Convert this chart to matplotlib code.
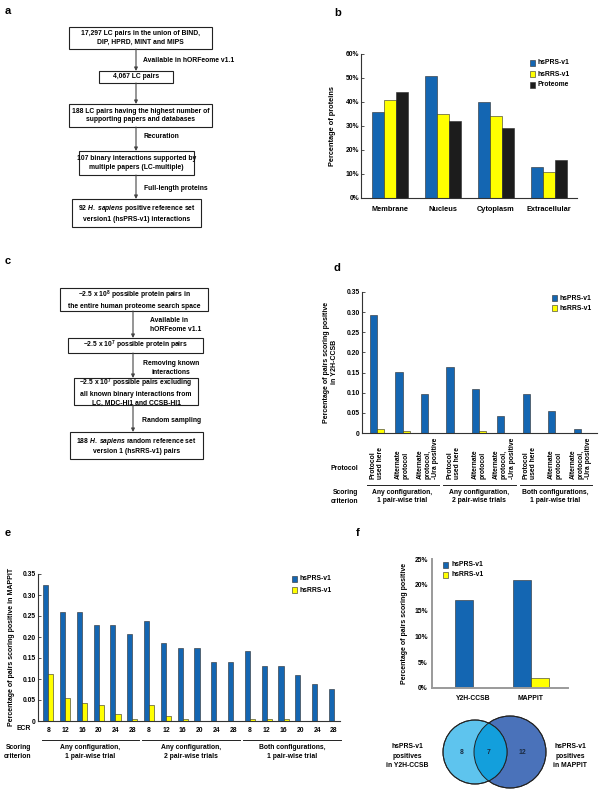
import matplotlib
matplotlib.use('Agg')
import matplotlib.pyplot as plt
from matplotlib.patches import Rectangle, Circle
import numpy as np

plt.rcParams['font.family'] = ['Liberation Sans', 'DejaVu Sans']
plt.rcParams['font.weight'] = 'bold'
plt.rcParams['mathtext.fontset'] = 'custom'
plt.rcParams['mathtext.rm'] = 'Liberation Sans:bold'
plt.rcParams['mathtext.it'] = 'Liberation Sans:italic:bold'
plt.rcParams['mathtext.default'] = 'rm'
plt.rcParams['axes.linewidth'] = 0.8

# ---------------- data ----------------
b_categories = ['Membrane', 'Nucleus', 'Cytoplasm', 'Extracellular']
b_prs = [36, 51, 40, 13]
b_rrs = [41, 35, 34, 11]
b_proteome = [44, 32, 29, 16]

d_protocols = ['Protocol\nused here', 'Alternate\nprotocol', 'Alternate\nprotocol,\n-Ura positive'] * 3
d_criteria = ['Any configuration,\n1 pair-wise trial', 'Any configuration,\n2 pair-wise trials',
              'Both configurations,\n1 pair-wise trial']
d_prs = [0.293, 0.152, 0.098, 0.163, 0.108, 0.043, 0.098, 0.054, 0.011]
d_rrs = [0.011, 0.005, 0.0, 0.0, 0.005, 0.0, 0.0, 0.0, 0.0]

e_ecr = ['8', '12', '16', '20', '24', '28'] * 3
e_criteria = ['Any configuration,\n1 pair-wise trial', 'Any configuration,\n2 pair-wise trials',
              'Both configurations,\n1 pair-wise trial']
e_prs = [0.325, 0.260, 0.260, 0.228, 0.228, 0.206, 0.238, 0.185, 0.173, 0.173, 0.140, 0.140,
         0.166, 0.132, 0.132, 0.110, 0.088, 0.077]
e_rrs = [0.113, 0.054, 0.043, 0.038, 0.016, 0.005, 0.038, 0.011, 0.005, 0.0, 0.0, 0.0,
         0.005, 0.005, 0.005, 0.0, 0.0, 0.0]

f_categories = ['Y2H-CCSB', 'MAPPIT']
f_prs = [17, 21]
f_rrs = [0, 2]

venn_counts = ['8', '7', '12']

series_names = ['hsPRS-v1', 'hsRRS-v1', 'Proteome']

BLUE = '#1466b2'
YELLOW = '#ffff00'
BLACK = '#1c1c1c'
EDGE = '#2a2a2a'
FS = 4.9

W, H = 603, 794
fig = plt.figure(figsize=(W / 100, H / 100), dpi=100)


def ax_px(l, t, r, b):
    return fig.add_axes([l / W, 1 - b / H, (r - l) / W, (b - t) / H])


ov = fig.add_axes([0, 0, 1, 1], zorder=10)
ov.set_xlim(0, W)
ov.set_ylim(H, 0)
ov.axis('off')


def box(l, t, r, b, text):
    ov.add_patch(Rectangle((l, t), r - l, b - t, fill=False, ec='#222222', lw=0.8))
    ov.text((l + r) / 2, (t + b) / 2, text, ha='center', va='center', fontsize=FS,
            linespacing=1.3)


def arrow(x, y0, y1):
    ov.annotate('', xy=(x, y1), xytext=(x, y0),
                arrowprops=dict(arrowstyle='-|>', color='#444444', lw=0.8,
                                mutation_scale=5, shrinkA=0, shrinkB=0))


def legend(x, ys, colors, names):
    for y, c, n in zip(ys, colors, names):
        ov.add_patch(Rectangle((x, y - 2.6), 5.2, 5.2, fc=c, ec=EDGE, lw=0.4))
        ov.text(x + 8, y, n, ha='left', va='center', fontsize=FS)


def style_axis(ax, color='#333333', lw=0.8):
    for s in ['top', 'right']:
        ax.spines[s].set_visible(False)
    for s in ['left', 'bottom']:
        ax.spines[s].set_color(color)
        ax.spines[s].set_linewidth(lw)
    ax.tick_params(axis='y', direction='in', length=2.5, width=0.6, pad=1.5, labelsize=FS,
                   color=color)
    ax.tick_params(axis='x', length=0, labelsize=FS)


# panel labels
for lab, x, y in [('a', 8, 11), ('b', 338, 13), ('c', 8, 261), ('d', 337, 268),
                  ('e', 8, 533), ('f', 358, 533)]:
    ov.text(x, y, lab, fontsize=8, ha='center', va='center')

# ---------------- panel a ----------------
box(69, 27, 212, 49, '17,297 LC pairs in the union of BIND,\nDIP, HPRD, MINT and MIPS')
arrow(136, 49, 71)
ov.text(143, 61, 'Available in hORFeome v1.1', fontsize=FS, va='center')
box(99, 71, 173, 83, '4,067 LC pairs')
arrow(136, 83, 104)
box(69, 104, 212, 127, '188 LC pairs having the highest number of\nsupporting papers and databases')
arrow(136, 127, 151)
ov.text(143, 137, 'Recuration', fontsize=FS, va='center')
box(79, 151, 194, 175, '107 binary interactions supported by\nmultiple papers (LC-multiple)')
arrow(136, 175, 199)
ov.text(144, 188, 'Full-length proteins', fontsize=FS, va='center')
box(72, 199, 201, 227, '92 $\\mathit{H.\\ sapiens}$ positive reference set\nversion1 (hsPRS-v1) interactions')

# ---------------- panel c ----------------
box(60, 288, 208, 311, '~2.5 x 10$^{8}$ possible protein pairs in\nthe entire human proteome search space')
arrow(133, 311, 338)
ov.text(150, 325, 'Available in\nhORFeome v1.1', fontsize=FS, va='center', linespacing=1.3,
        multialignment='left')
box(68, 338, 203, 353, '~2.5 x 10$^{7}$ possible protein pairs')
arrow(133, 353, 378)
ov.text(143, 368, 'Removing known\ninteractions', fontsize=FS, va='center', linespacing=1.3,
        multialignment='center')
box(74, 378, 198, 405, '~2.5 x 10$^{7}$ possible pairs excluding\nall known binary interactions from\nLC, MDC-HI1 and CCSB-HI1')
arrow(133, 405, 432)
ov.text(142, 421, 'Random sampling', fontsize=FS, va='center')
box(70, 432, 203, 459, '188 $\\mathit{H.\\ sapiens}$ random reference set\nversion 1 (hsRRS-v1) pairs')

# ---------------- panel b ----------------
axb = ax_px(361, 54, 577, 198)
xb = np.arange(len(b_categories))
wb = 0.226
axb.bar(xb - wb, b_prs, wb, color=BLUE, ec=EDGE, lw=0.4)
axb.bar(xb, b_rrs, wb, color=YELLOW, ec=EDGE, lw=0.4)
axb.bar(xb + wb, b_proteome, wb, color=BLACK, ec=EDGE, lw=0.4)
axb.set_xlim(-0.547, 3.53)
axb.set_ylim(0, 60)
axb.set_yticks(range(0, 61, 10))
axb.set_yticklabels([f'{v}%' for v in range(0, 61, 10)])
axb.set_xticks(xb)
axb.set_xticklabels(b_categories, fontsize=5.2)
style_axis(axb)
axb.tick_params(axis='x', pad=6, labelsize=5.3)
ov.text(333, 126, 'Percentage of proteins', rotation=90, fontsize=5.3, ha='center', va='center')
legend(530, [63, 74, 85], [BLUE, YELLOW, BLACK], series_names)

# ---------------- panel d ----------------
axd = ax_px(362, 292, 597, 433)
xd = np.arange(len(d_prs))
wd = 0.29
axd.bar(xd - wd / 2, d_prs, wd, color=BLUE, ec=EDGE, lw=0.4)
axd.bar(xd + wd / 2, d_rrs, wd, color=YELLOW, ec=EDGE, lw=0.4)
axd.set_xlim(-0.59, 8.63)
axd.set_ylim(0, 0.35)
dt = np.arange(0, 0.351, 0.05)
axd.set_yticks(dt)
axd.set_yticklabels(['0'] + [f'{v:.2f}' for v in dt[1:]])
axd.set_xticks([])
style_axis(axd)
hd = 433 - 292
tr = axd.get_xaxis_transform()
for i, lab in enumerate(d_protocols):
    axd.text(i, (433 - 479) / hd, lab, rotation=90, ha='center', va='bottom', fontsize=FS,
             transform=tr, multialignment='left', linespacing=1.15, clip_on=False)
for g, lab in enumerate(d_criteria):
    axd.plot([g * 3 - 0.4, g * 3 + 2.45], [(433 - 485) / hd] * 2, color='#222222', lw=0.7,
             transform=tr, clip_on=False)
    axd.text(g * 3 + 1, (433 - 489) / hd, lab, ha='center', va='top', fontsize=FS,
             transform=tr, linespacing=1.3, clip_on=False)
ov.text(358, 468, 'Protocol', ha='right', va='center', fontsize=FS)
ov.text(358, 497, 'Scoring\ncriterion', ha='right', va='center', fontsize=FS, multialignment='right',
        linespacing=1.3)
ov.text(330, 362, 'Percentage of pairs scoring positive\nin Y2H-CCSB', rotation=90, fontsize=5.0,
        ha='center', va='center', linespacing=1.2)
legend(552, [298, 308], [BLUE, YELLOW], series_names[:2])

# ---------------- panel e ----------------
axe = ax_px(38, 574, 340, 721)
xe = np.arange(len(e_prs))
we = 0.3
axe.bar(xe - we / 2, e_prs, we, color=BLUE, ec=EDGE, lw=0.4)
axe.bar(xe + we / 2, e_rrs, we, color=YELLOW, ec=EDGE, lw=0.4)
axe.set_xlim(-0.61, 17.36)
axe.set_ylim(0, 0.35)
axe.set_yticks(dt)
axe.set_yticklabels(['0'] + [f'{v:.2f}' for v in dt[1:]])
axe.set_xticks(xe)
axe.set_xticklabels(e_ecr)
style_axis(axe)
axe.tick_params(axis='x', pad=4)
he = 721 - 574
tre = axe.get_xaxis_transform()
for g, lab in enumerate(e_criteria):
    axe.plot([g * 6 - 0.4, g * 6 + 5.4], [(721 - 740) / he] * 2, color='#222222', lw=0.7,
             transform=tre, clip_on=False)
    axe.text(g * 6 + 2.5, (721 - 744) / he, lab, ha='center', va='top', fontsize=FS,
             transform=tre, linespacing=1.3, clip_on=False)
ov.text(31, 729, 'ECR', ha='right', va='center', fontsize=FS)
ov.text(31, 752, 'Scoring\ncriterion', ha='right', va='center', fontsize=FS, multialignment='right',
        linespacing=1.3)
ov.text(12, 647, 'Percentage of pairs scoring positive in MAPPIT', rotation=90, fontsize=5.0,
        ha='center', va='center')
legend(292, [579, 590], [BLUE, YELLOW], series_names[:2])

# ---------------- panel f ----------------
axf = ax_px(432, 559, 568, 688)
xf = np.arange(len(f_prs))
wf = 0.31
axf.bar(xf - wf / 2, f_prs, wf, color=BLUE, ec=EDGE, lw=0.4)
axf.bar(xf + wf / 2, f_rrs, wf, color=YELLOW, ec=EDGE, lw=0.4)
axf.set_xlim(-0.707, 1.64)
axf.set_ylim(0, 25)
axf.set_yticks(range(0, 26, 5))
axf.set_yticklabels([f'{v}%' for v in range(0, 26, 5)])
axf.set_xticks(xf)
axf.set_xticklabels(f_categories)
style_axis(axf, color='#9a9a9a', lw=1.4)
axf.tick_params(axis='y', length=0, pad=3)
axf.tick_params(axis='x', pad=5)
ov.text(404, 623, 'Percentage of pairs scoring positive', rotation=90, fontsize=5.0,
        ha='center', va='center')
legend(443, [565, 575], [BLUE, YELLOW], series_names[:2])

# ---------------- Venn ----------------
left_c = Circle((475, 752), 32, fc='#5ec4ee', ec='#222222', lw=0.7)
right_c = Circle((510, 752), 36, fc='#4a72ba', ec='#222222', lw=0.7)
ov.add_patch(right_c)
ov.add_patch(left_c)
inter = Circle((475, 752), 32, fc='#139fdc', ec='none')
ov.add_patch(inter)
inter.set_clip_path(right_c)
ov.add_patch(Circle((475, 752), 32, fill=False, ec='#222222', lw=0.7))
ov.add_patch(Circle((510, 752), 36, fill=False, ec='#222222', lw=0.7))
for x, t in zip([462, 489, 522], venn_counts):
    ov.text(x, 752, t, ha='center', va='center', fontsize=FS, color='#1a2a40')
ov.text(407, 756, 'hsPRS-v1\npositives\nin Y2H-CCSB', ha='center', va='center', fontsize=FS,
        linespacing=1.45)
ov.text(570, 756, 'hsPRS-v1\npositives\nin MAPPIT', ha='center', va='center', fontsize=FS,
        linespacing=1.45)

fig.savefig('out.png', dpi=100)
